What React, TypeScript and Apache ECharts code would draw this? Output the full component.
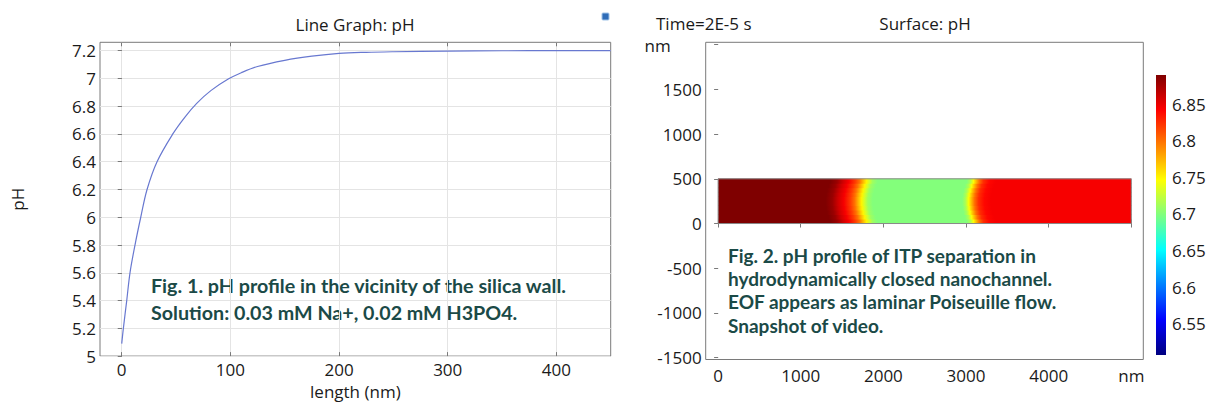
import React, { useEffect, useRef } from "react";
import * as echarts from "echarts";

// ---------- Fig. 1 : line graph data ----------
const LENGTH_NM = [0, 1.5, 4.6, 7.6, 12.2, 17.5, 23.3, 32.5, 47, 58, 69, 82, 98, 110, 125, 150, 175, 200, 225, 250, 300, 350, 400, 450];
const PH_VALUES = [5.09, 5.2, 5.4, 5.6, 5.8, 6.0, 6.2, 6.4, 6.6, 6.72, 6.82, 6.912, 6.995, 7.041, 7.086, 7.13, 7.16, 7.18, 7.188, 7.192, 7.197, 7.199, 7.2, 7.2];
const LENGTH_TICKS = [0, 100, 200, 300, 400];
const PH_TICKS = [5, 5.2, 5.4, 5.6, 5.8, 6, 6.2, 6.4, 6.6, 6.8, 7, 7.2];

// ---------- Fig. 2 : surface plot data ----------
const CHANNEL_X = [0, 5000];
const CHANNEL_Y = [0, 500];
const CH_X_TICKS = [0, 1000, 2000, 3000, 4000, 5000];
const CH_Y_TICKS = [-1500, -1000, -500, 0, 500, 1000, 1500, 2000];
// pH along the channel (centre line)
const PROFILE_X = [0, 1300, 1380, 1450, 1520, 1600, 1650, 1700, 1735, 1770, 1810, 1870, 2950, 2990, 3030, 3060, 3100, 3150, 3220, 3300, 5000];
const PROFILE_PH = [6.89, 6.89, 6.88, 6.86, 6.845, 6.82, 6.8, 6.77, 6.75, 6.73, 6.71, 6.7, 6.7, 6.715, 6.745, 6.77, 6.8, 6.825, 6.84, 6.845, 6.845];
// rows across the channel height and the front displacement (nm) in each row
const ROW_BOTTOM = [0, 50, 100, 150, 200, 250, 300, 350, 400, 450];
const ROW_TOP = [50, 100, 150, 200, 250, 300, 350, 400, 450, 500];
const ROW_SHIFT = [60, 38, 20, 8, 2, 2, 8, 20, 38, 60];

// ---------- colour bar ----------
const CB_RANGE = [6.507, 6.89];
const CB_TICKS = [6.55, 6.6, 6.65, 6.7, 6.75, 6.8, 6.85];
const COLORMAP = ["#00007f", "#0000ff", "#007fff", "#00ffff", "#7fff7f", "#ffff00", "#ff7f00", "#ff0000", "#7f0000"];

const FIG1_TEXT = ["Fig. 1. pH profile in the vicinity of the silica wall.", "Solution: 0.03 mM Na+, 0.02 mM H3PO4."];
const FIG2_TEXT = ["Fig. 2. pH profile of ITP separation in", "hydrodynamically closed nanochannel.", "EOF appears as laminar Poiseuille flow.", "Snapshot of video."];

const AXIS_GRAY = "#7a7a7a";
const TEXT_COLOR = "#1a1a1a";
const FONT = "Open Sans";
const NOTE_COLOR = "#1b4a47";

function phColor(v: number): string {
  const t = Math.min(1, Math.max(0, (v - CB_RANGE[0]) / (CB_RANGE[1] - CB_RANGE[0])));
  return echarts.color.lerp(t, COLORMAP) as string;
}

const label = { fontFamily: FONT, fontSize: 17, color: TEXT_COLOR };

export default function App() {
  const ref = useRef<HTMLDivElement>(null);

  useEffect(() => {
    if (!ref.current) return;
    const chart = echarts.init(ref.current, undefined, { renderer: "svg" });

    const lineData = LENGTH_NM.map((x, i) => [x, PH_VALUES[i]]);
    const rowData = ROW_BOTTOM.map((b, i) => [b, ROW_TOP[i], ROW_SHIFT[i]]);

    const option: any = {
      animation: false,
      backgroundColor: "#ffffff",
      grid: [
        { left: 100, top: 42.3, width: 510.7, height: 319.4, show: true, borderColor: AXIS_GRAY, borderWidth: 1, backgroundColor: "transparent" },
        { left: 705.7, top: 42.3, width: 437.6, height: 317.2, show: true, borderColor: AXIS_GRAY, borderWidth: 1, backgroundColor: "transparent" },
        { left: 1156, top: 67.7, width: 10, height: 292.4 },
      ],
      xAxis: [
        {
          gridIndex: 0, type: "value", min: -20, max: 450, position: "bottom",
          axisLine: { show: false },
          axisTick: { inside: true, length: 4, lineStyle: { color: AXIS_GRAY }, customValues: LENGTH_TICKS },
          axisLabel: { ...label, margin: 5, customValues: LENGTH_TICKS },
          splitLine: { show: true, lineStyle: { color: "#e4e4e4", width: 1 } },
          name: "length (nm)", nameLocation: "middle", nameGap: 24, nameTextStyle: { ...label },
        },
        {
          gridIndex: 0, type: "value", min: -20, max: 450, position: "top",
          axisLine: { show: false },
          axisTick: { inside: true, length: 4, lineStyle: { color: AXIS_GRAY }, customValues: LENGTH_TICKS },
          axisLabel: { show: false }, splitLine: { show: false },
        },
        {
          gridIndex: 1, type: "value", min: -150, max: 5145, position: "bottom",
          axisLine: { show: false },
          axisTick: { inside: true, length: 4, lineStyle: { color: AXIS_GRAY }, customValues: CH_X_TICKS },
          axisLabel: { ...label, margin: 7, customValues: CH_X_TICKS, formatter: (v: number) => (v === 5000 ? "nm" : String(v)) },
          splitLine: { show: false },
        },
        {
          gridIndex: 1, type: "value", min: -150, max: 5145, position: "top",
          axisLine: { show: false },
          axisTick: { inside: true, length: 4, lineStyle: { color: AXIS_GRAY }, customValues: CH_X_TICKS },
          axisLabel: { show: false }, splitLine: { show: false },
        },
        { gridIndex: 2, type: "value", min: 0, max: 1, show: false },
      ],
      yAxis: [
        {
          gridIndex: 0, type: "value", min: 5, max: 7.26, position: "left",
          axisLine: { show: false },
          axisTick: { inside: false, length: 3, lineStyle: { color: AXIS_GRAY }, customValues: PH_TICKS },
          axisLabel: { ...label, margin: 4, customValues: PH_TICKS },
          splitLine: { show: true, lineStyle: { color: "#e4e4e4", width: 1 } },
          name: "pH", nameLocation: "middle", nameGap: 74, nameTextStyle: { ...label },
        },
        {
          gridIndex: 0, type: "value", min: 5, max: 7.26, position: "right",
          axisLine: { show: false },
          axisTick: { inside: true, length: 4, lineStyle: { color: AXIS_GRAY }, customValues: PH_TICKS },
          axisLabel: { show: false }, splitLine: { show: false },
        },
        {
          gridIndex: 1, type: "value", min: -1521, max: 2027, position: "left",
          axisLine: { show: false },
          axisTick: { inside: false, length: 3, lineStyle: { color: AXIS_GRAY }, customValues: CH_Y_TICKS },
          axisLabel: {
            ...label, margin: 4, customValues: CH_Y_TICKS,
            formatter: (v: number) => (v === 2000 ? "{u|nm}" : String(v)),
            rich: { u: { fontFamily: FONT, fontSize: 17, color: TEXT_COLOR, padding: [2, 31, 0, 0] } },
          },
          splitLine: { show: false },
        },
        {
          gridIndex: 1, type: "value", min: -1521, max: 2027, position: "right",
          axisLine: { show: false },
          axisTick: { inside: true, length: 4, lineStyle: { color: AXIS_GRAY }, customValues: CH_Y_TICKS },
          axisLabel: { show: false }, splitLine: { show: false },
        },
        {
          gridIndex: 2, type: "value", min: 6.5, max: 6.9, position: "right",
          axisLine: { show: false }, axisTick: { show: false }, splitLine: { show: false },
          axisLabel: { ...label, margin: 6, customValues: CB_TICKS },
        },
      ],
      series: [
        {
          type: "line", xAxisIndex: 0, yAxisIndex: 0, data: lineData,
          smooth: 0.35, showSymbol: false, symbol: "none",
          lineStyle: { color: "#6878d0", width: 1.2 }, silent: true,
        },
        {
          type: "custom", xAxisIndex: 2, yAxisIndex: 2, data: rowData, silent: true,
          renderItem: (params: any, api: any) => {
            const y0 = api.value(0), y1 = api.value(1), shift = api.value(2);
            const tl = api.coord([CHANNEL_X[0], y1]);
            const br = api.coord([CHANNEL_X[1], y0]);
            const span = CHANNEL_X[1] - CHANNEL_X[0];
            const stops = PROFILE_X.map((x, i) => ({
              offset: Math.min(1, Math.max(0, (x + shift - CHANNEL_X[0]) / span)),
              color: phColor(PROFILE_PH[i]),
            }));
            return {
              type: "rect",
              shape: { x: tl[0], y: tl[1] - 0.4, width: br[0] - tl[0], height: br[1] - tl[1] + 0.8 },
              style: { fill: new echarts.graphic.LinearGradient(0, 0, 1, 0, stops) },
            };
          },
        },
        {
          type: "custom", xAxisIndex: 2, yAxisIndex: 2, data: [[CHANNEL_X[0], CHANNEL_X[1], CHANNEL_Y[0], CHANNEL_Y[1]]], silent: true, z: 5,
          renderItem: (params: any, api: any) => {
            const tl = api.coord([api.value(0), api.value(3)]);
            const br = api.coord([api.value(1), api.value(2)]);
            return {
              type: "rect",
              shape: { x: tl[0], y: tl[1], width: br[0] - tl[0], height: br[1] - tl[1] },
              style: { fill: "transparent", stroke: "#8a8a8a", lineWidth: 1 },
            };
          },
        },
        {
          type: "custom", xAxisIndex: 4, yAxisIndex: 4, data: [[0, 1, CB_RANGE[0], CB_RANGE[1]]], silent: true,
          renderItem: (params: any, api: any) => {
            const tl = api.coord([api.value(0), api.value(3)]);
            const br = api.coord([api.value(1), api.value(2)]);
            const stops = COLORMAP.map((c, i) => ({ offset: 1 - i / (COLORMAP.length - 1), color: c })).reverse();
            return {
              type: "rect",
              shape: { x: tl[0], y: tl[1], width: br[0] - tl[0], height: br[1] - tl[1] },
              style: { fill: new echarts.graphic.LinearGradient(0, 0, 0, 1, stops) },
            };
          },
        },
      ],
      graphic: [
        { type: "text", x: 355, y: 24, style: { text: "Line Graph: pH", fontFamily: FONT, fontSize: 17, fill: TEXT_COLOR, textAlign: "center", textVerticalAlign: "middle" } },
        { type: "text", x: 656, y: 23, style: { text: "Time=2E-5 s", fontFamily: FONT, fontSize: 17, fill: TEXT_COLOR, textAlign: "left", textVerticalAlign: "middle" } },
        { type: "text", x: 925, y: 23, style: { text: "Surface: pH", fontFamily: FONT, fontSize: 17, fill: TEXT_COLOR, textAlign: "center", textVerticalAlign: "middle" } },
        { type: "rect", x: 602, y: 13, shape: { width: 7, height: 7, r: 1 }, style: { fill: "#2f6db8", stroke: "#9fc3e8", lineWidth: 1 } },
        ...FIG1_TEXT.map((t, i) => ({
          type: "text", x: 151, y: 285 + i * 27.5,
          style: { text: t, fontFamily: "Lato", fontWeight: "bold", fontSize: 19.7, fill: NOTE_COLOR, textAlign: "left", textVerticalAlign: "middle" },
        })),
        ...FIG2_TEXT.map((t, i) => ({
          type: "text", x: 728, y: 255 + i * 23.4,
          style: { text: t, fontFamily: "Lato", fontWeight: "bold", fontSize: 19, fill: NOTE_COLOR, textAlign: "left", textVerticalAlign: "middle" },
        })),
      ],
    };

    chart.setOption(option);
    return () => chart.dispose();
  }, []);

  return (
    <div
      ref={ref}
      style={{ position: "absolute", left: 0, top: 0, width: 1209, height: 405, background: "#ffffff" }}
    />
  );
}
